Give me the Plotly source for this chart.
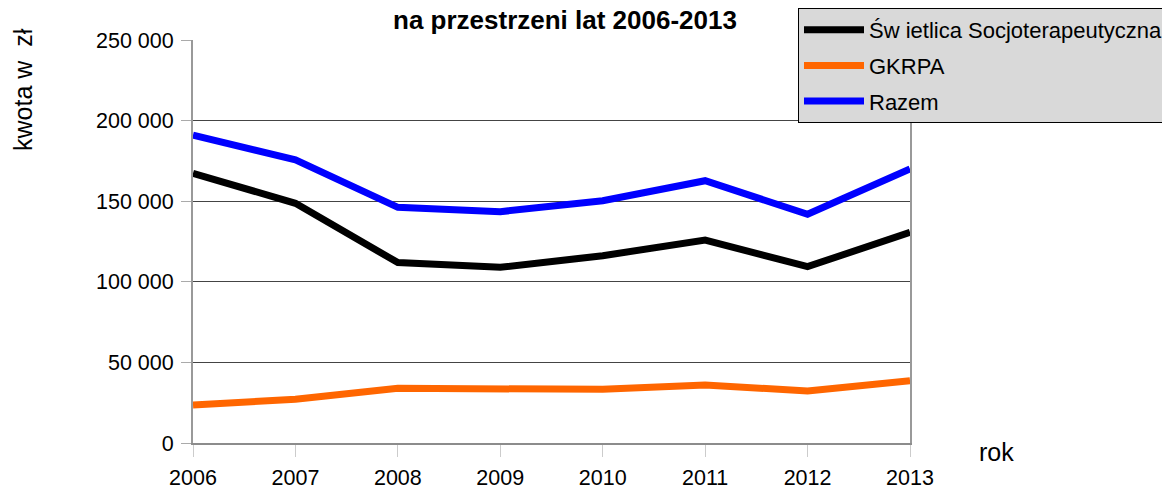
import plotly.graph_objects as go

years = [2006, 2007, 2008, 2009, 2010, 2011, 2012, 2013]
swietlica = [167300, 148700, 111900, 109000, 116200, 125900, 109400, 130700]
gkrpa = [23600, 27100, 33900, 33900, 33300, 36000, 32300, 38700]
razem = [191000, 175600, 146200, 143500, 150300, 162700, 141900, 170000]

series_names = ["Św ietlica Socjoterapeutyczna", "GKRPA", "Razem"]
series_colors = ["#000000", "#ff6600", "#0000ff"]
y_ticks = [0, 50000, 100000, 150000, 200000, 250000]

FONT = "Liberation Sans, Arial, sans-serif"

# page offset (default body margin of the html page)
OFF = 8
W, H = 1170, 489
PL, PR, PT, PB = 193 - OFF, 910 - OFF, 40 - OFF, 443 - OFF
PW, PH = PR - PL, PB - PT


def px(x):
    return (x - OFF - PL) / PW


def py(y):
    return (PB - (y - OFF)) / PH


fig = go.Figure()
for name, vals, col in zip(series_names, [swietlica, gkrpa, razem], series_colors):
    fig.add_trace(go.Scatter(
        x=years, y=vals, mode="lines", name=name,
        line=dict(color=col, width=7), legendgroup=name,
    ))

fig.update_layout(
    width=W, height=H,
    margin=dict(l=PL, r=W - PR, t=PT, b=H - PB, pad=0, autoexpand=False),
    paper_bgcolor="white", plot_bgcolor="white",
    font=dict(family=FONT, size=21, color="black"),
    separators=", ",
    showlegend=True,
    legend=dict(
        x=px(798), y=py(8), xanchor="left", yanchor="top",
        bgcolor="#d9d9d9", bordercolor="black", borderwidth=1,
        font=dict(family=FONT, size=22, color="black"),
        tracegroupgap=4, itemwidth=60,
    ),
    xaxis=dict(
        range=[2006, 2013], tickvals=years, ticktext=[str(y) for y in years],
        showgrid=False, zeroline=False, automargin=False,
        showline=True, linecolor="#8c8c8c", linewidth=2,
        ticks="outside", ticklen=12, tickcolor="#cccccc", tickwidth=1,
        ticklabelstandoff=2,
        tickfont=dict(size=21.5),
    ),
    yaxis=dict(
        range=[0, 250000], tickvals=y_ticks, tickformat=",.0f",
        showgrid=True, gridcolor="#444444", gridwidth=1,
        zeroline=False, automargin=False,
        showline=True, linecolor="#999999", linewidth=2, mirror=True,
        ticks="outside", ticklen=10, tickcolor="#aaaaaa", tickwidth=1,
        ticklabelstandoff=3,
        tickfont=dict(size=21.5),
    ),
    annotations=[
        dict(text="<b>na przestrzeni lat 2006-2013</b>", xref="paper", yref="paper",
             x=px(565), y=py(20), xanchor="center", yanchor="middle",
             showarrow=False, font=dict(size=26, family=FONT)),
        dict(text="kwota w  zł", xref="paper", yref="paper",
             x=px(23), y=py(90), xanchor="center", yanchor="middle",
             textangle=-90, showarrow=False, font=dict(size=25, family=FONT)),
        dict(text="rok", xref="paper", yref="paper",
             x=px(996), y=py(452), xanchor="center", yanchor="middle",
             showarrow=False, font=dict(size=25, family=FONT)),
    ],
)

fig.write_html("out.html")
